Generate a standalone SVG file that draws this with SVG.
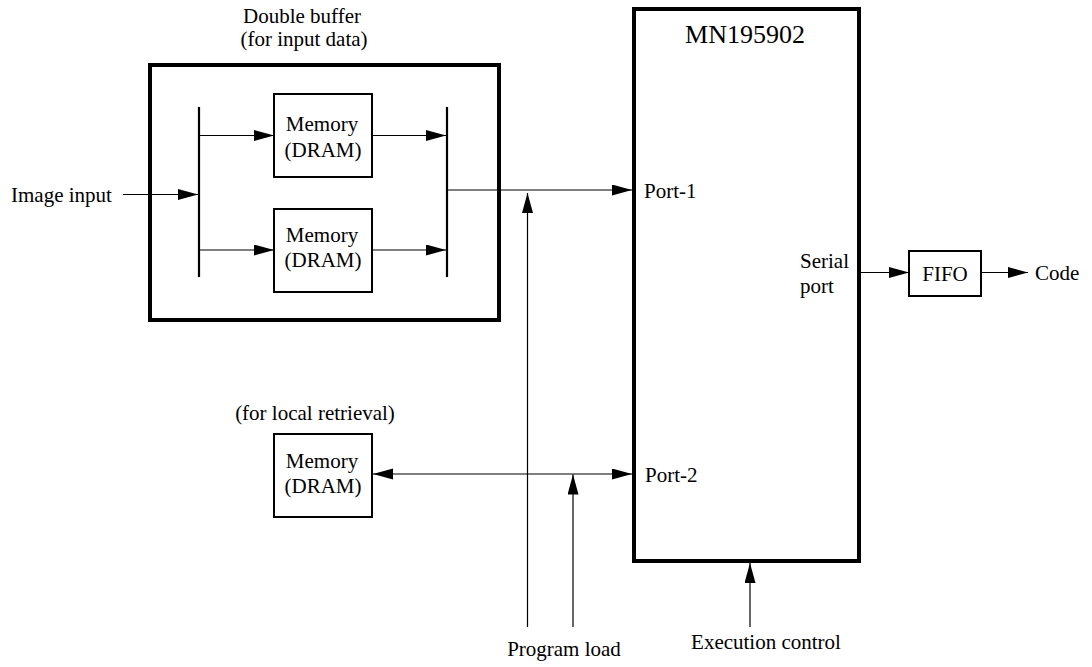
<svg xmlns="http://www.w3.org/2000/svg" width="1092" height="667" viewBox="0 0 1092 667">
<style>
text{font-family:"Liberation Serif","Times New Roman",serif;font-size:21px;fill:#000}
.mid{text-anchor:middle}
.box{fill:#fff;stroke:#000;stroke-width:2}
.thick{fill:none;stroke:#000;stroke-width:4}
.bus{stroke:#000;stroke-width:2.2;fill:none}
.ln{stroke:#000;stroke-width:1.2;fill:none}
.arr{marker-end:url(#ah)}
</style>
<defs>
<marker id="ah" markerUnits="userSpaceOnUse" markerWidth="21" markerHeight="12" refX="20" refY="5.5" orient="auto-start-reverse">
<path d="M0,0 L20,5.5 L0,11 Z" fill="#000"/>
</marker>
</defs>
<rect width="1092" height="667" fill="#fff"/>

<g id="double-buffer">
<rect class="thick" x="150" y="65" width="349" height="255"/>
<text class="mid" x="302" y="23">Double buffer</text>
<text class="mid" x="304" y="46">(for input data)</text>
<line class="bus" x1="199" y1="107" x2="199" y2="277"/>
<line class="bus" x1="447" y1="107" x2="447" y2="277"/>
</g>

<g id="memory1">
<rect class="box" x="274" y="94" width="98" height="83"/>
<text class="mid" x="322" y="131">Memory</text>
<text class="mid" x="323" y="157">(DRAM)</text>
</g>

<g id="memory2">
<rect class="box" x="274" y="209" width="98" height="83"/>
<text class="mid" x="322" y="242">Memory</text>
<text class="mid" x="323" y="267">(DRAM)</text>
</g>

<g id="memory3">
<text class="mid" x="315" y="420">(for local retrieval)</text>
<rect class="box" x="274" y="434" width="98" height="83"/>
<text class="mid" x="322" y="468">Memory</text>
<text class="mid" x="323" y="493">(DRAM)</text>
</g>

<g id="mn195902">
<rect class="thick" x="634" y="9" width="225" height="552"/>
<text class="mid" x="745" y="43" style="font-size:26px">MN195902</text>
<text x="644" y="198">Port-1</text>
<text x="645" y="482">Port-2</text>
<text x="800" y="268">Serial</text>
<text x="800" y="293">port</text>
</g>

<g id="fifo">
<rect class="box" x="909" y="251" width="72" height="45"/>
<text class="mid" x="945" y="281">FIFO</text>
</g>

<g id="labels">
<text x="11" y="202">Image input</text>
<text x="1035" y="280">Code</text>
<text class="mid" x="564" y="656">Program load</text>
<text class="mid" x="766" y="649">Execution control</text>
</g>

<g id="connectors">
<line class="ln arr" x1="123" y1="194.5" x2="198" y2="194.5"/>
<line class="ln arr" x1="200" y1="135.5" x2="274" y2="135.5"/>
<line class="ln arr" x1="200" y1="250" x2="274" y2="250"/>
<line class="ln arr" x1="372" y1="135.5" x2="446" y2="135.5"/>
<line class="ln arr" x1="372" y1="250" x2="446" y2="250"/>
<line class="ln arr" x1="448" y1="190" x2="632" y2="190"/>
<line class="ln arr" x1="527.5" y1="627" x2="527.5" y2="193"/>
<line class="ln arr" x1="573" y1="627" x2="573" y2="474.5"/>
<line class="ln arr" x1="373" y1="474" x2="632" y2="474" style="marker-start:url(#ah)"/>
<line class="ln arr" x1="750" y1="627" x2="750" y2="563"/>
<line class="ln arr" x1="859" y1="272.5" x2="909" y2="272.5"/>
<line class="ln arr" x1="981" y1="272.5" x2="1028" y2="272.5"/>
</g>
</svg>
